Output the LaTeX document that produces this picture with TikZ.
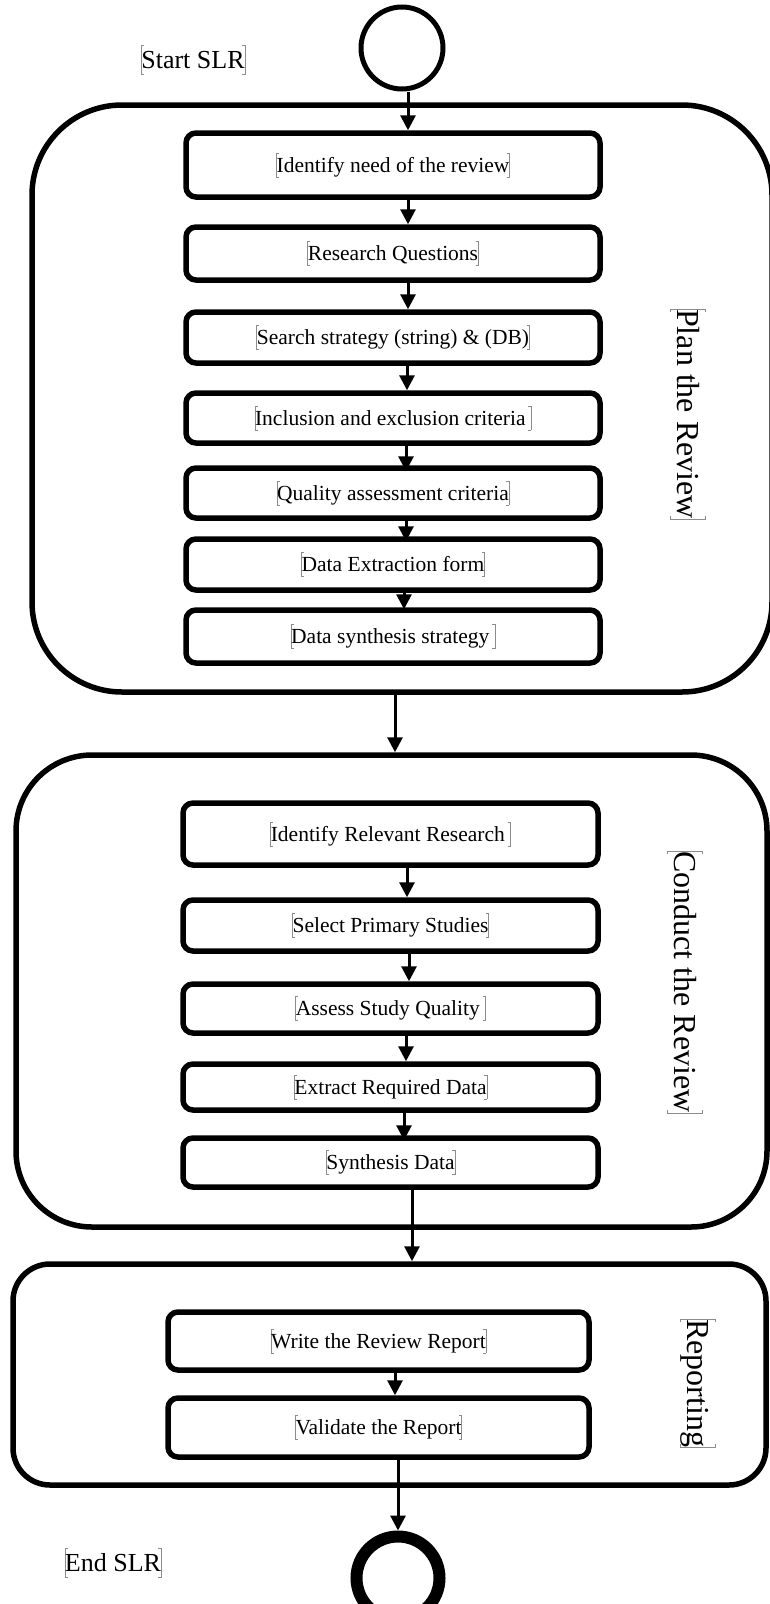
\documentclass[tikz,border=0pt]{standalone}
\usepackage{fontspec}
\setmainfont{Liberation Serif}
\usetikzlibrary{arrows.meta}

% thin grey frame marks on both sides of every text line
\newcommand{\lbrk}{{\color{black!45}%
  \rlap{\vrule height .9em depth \dimexpr-.9em+.45pt\relax width 3pt}%
  \rlap{\vrule height \dimexpr-.22em+.45pt\relax depth .22em width 3pt}%
  \vrule height .9em depth .22em width .45pt}}
\newcommand{\rbrk}{{\color{black!45}%
  \vrule height .9em depth .22em width .45pt%
  \llap{\vrule height .9em depth \dimexpr-.9em+.45pt\relax width 3pt}%
  \llap{\vrule height \dimexpr-.22em+.45pt\relax depth .22em width 3pt}}}
\newcommand{\tk}[1]{\lbrk#1\rbrk}

\tikzset{
  stepbox/.style={draw, line width=5.5pt, rounded corners=10pt, inner sep=0pt,
    font=\fontsize{21.5pt}{25pt}\selectfont},
  stage/.style={draw, line width=5.5pt, inner sep=0pt},
  arr/.style={line width=3pt, -{Triangle[width=15pt,length=15pt]}},
  sidelabel/.style={rotate=-90, inner sep=0pt, font=\fontsize{32pt}{36pt}\selectfont},
  endlabel/.style={inner sep=0pt, font=\fontsize{26pt}{30pt}\selectfont},
}

\begin{document}
\begin{tikzpicture}[x=1pt, y=-1pt]
\clip (0,0) rectangle (770,1604);

% stage containers
\node[stage, rounded corners=90pt, minimum width=740pt, minimum height=587pt] (plan) at (402,398.5) {};
\node[stage, rounded corners=76pt, minimum width=751pt, minimum height=472pt] (conduct) at (391.5,991) {};
\node[stage, rounded corners=37pt, minimum width=753pt, minimum height=221pt] (report) at (389.5,1374.5) {};

% start and end markers
\node[draw, circle, line width=5pt, minimum size=82pt, inner sep=0pt] (start) at (402,48) {};
\node[draw, circle, line width=12pt, minimum size=83pt, inner sep=0pt] (finish) at (398,1578) {};
\node[endlabel] (startlbl) at (193,60) {\tk{Start SLR}};
\node[endlabel] (endlbl) at (113,1563) {\tk{End SLR}};

% planning steps
\node[stepbox, minimum width=414pt, minimum height=64pt] (p1) at (393,165) {\tk{Identify need of the review}};
\node[stepbox, minimum width=414pt, minimum height=53pt] (p2) at (393,253.5) {\tk{Research Questions}};
\node[stepbox, minimum width=414pt, minimum height=51pt] (p3) at (393,337.5) {\tk{Search strategy (string) \& (DB)}};
\node[stepbox, minimum width=414pt, minimum height=50pt] (p4) at (393,418) {\tk{Inclusion and exclusion criteria\ }};
\node[stepbox, minimum width=414pt, minimum height=50pt] (p5) at (393,493) {\tk{Quality assessment criteria}};
\node[stepbox, minimum width=414pt, minimum height=51pt] (p6) at (393,564.5) {\tk{Data Extraction form}};
\node[stepbox, minimum width=414pt, minimum height=53pt] (p7) at (393,636.5) {\tk{Data synthesis strategy\ }};
\node[sidelabel] (planlbl) at (688,414) {\tk{Plan the Review}};

% conducting steps
\node[stepbox, minimum width=415pt, minimum height=62pt] (c1) at (390.5,834) {\tk{Identify Relevant Research\ }};
\node[stepbox, minimum width=415pt, minimum height=51pt] (c2) at (390.5,925.5) {\tk{Select Primary Studies}};
\node[stepbox, minimum width=415pt, minimum height=49pt] (c3) at (390.5,1008.5) {\tk{Assess Study Quality\ }};
\node[stepbox, minimum width=415pt, minimum height=46pt] (c4) at (390.5,1087) {\tk{Extract Required Data}};
\node[stepbox, minimum width=415pt, minimum height=49pt] (c5) at (390.5,1162.5) {\tk{Synthesis Data}};
\node[sidelabel] (conductlbl) at (685,982) {\tk{Conduct the Review}};

% reporting steps
\node[stepbox, minimum width=421pt, minimum height=58pt] (r1) at (378.5,1341) {\tk{Write the Review Report}};
\node[stepbox, minimum width=421pt, minimum height=59pt] (r2) at (378.5,1427.5) {\tk{Validate the Report}};
\node[sidelabel] (reportlbl) at (698,1383) {\tk{Reporting}};

% flow
\coordinate (xstage) at (395,0);
\draw[arr] ([xshift=6pt]start.south) -- ([xshift=15pt]p1.north);
\draw[arr] ([xshift=15pt]p1.south) -- ([xshift=15pt]p2.north);
\draw[arr] ([xshift=15pt]p2.south) -- ([xshift=15pt]p3.north);
\draw[arr] ([xshift=14pt]p3.south) -- ([xshift=14pt]p4.north);
\draw[arr, shorten >=-6pt] ([xshift=13pt]p4.south) -- ([xshift=13pt]p5.north);
\draw[arr, shorten >=-5pt] ([xshift=13pt]p5.south) -- ([xshift=13pt]p6.north);
\draw[arr, shorten >=-2pt] ([xshift=11pt]p6.south) -- ([xshift=11pt]p7.north);
\draw[arr] (plan.south -| xstage) -- (conduct.north -| xstage);
\draw[arr] ([xshift=16.5pt]c1.south) -- ([xshift=16.5pt]c2.north);
\draw[arr] ([xshift=18.5pt]c2.south) -- ([xshift=18.5pt]c3.north);
\draw[arr] ([xshift=15.5pt]c3.south) -- ([xshift=15.5pt]c4.north);
\draw[arr, shorten >=-5pt] ([xshift=13.5pt]c4.south) -- ([xshift=13.5pt]c5.north);
\draw[arr] ([xshift=21.5pt]c5.south) -- ([xshift=21.5pt]c5.south |- report.north);
\draw[arr] ([xshift=16.5pt]r1.south) -- ([xshift=16.5pt]r2.north);
\draw[arr] ([xshift=19.5pt]r2.south) -- (finish.north);
\end{tikzpicture}
\end{document}
